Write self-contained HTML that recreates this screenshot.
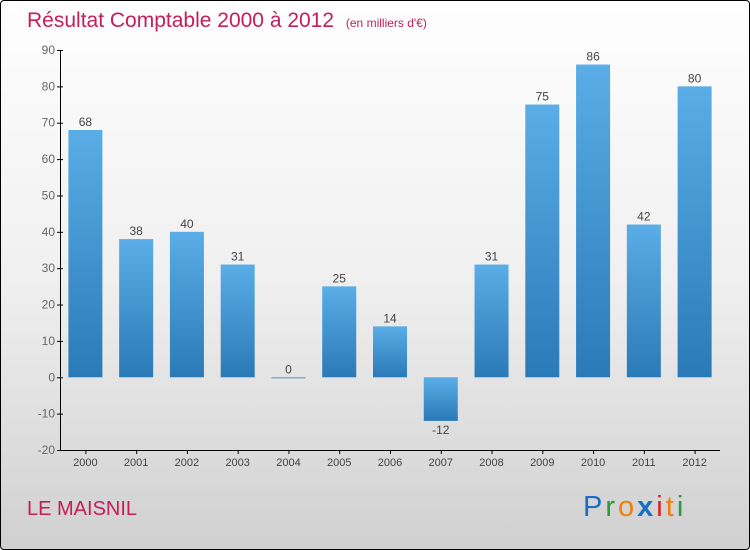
<!DOCTYPE html>
<html><head><meta charset="utf-8"><style>
html,body{margin:0;padding:0;}
body{width:750px;height:550px;overflow:hidden;font-family:"Liberation Sans",sans-serif;}
#wrap{position:absolute;left:0;top:0;width:748px;height:548px;border:1px solid #000;border-radius:4px;background:linear-gradient(#fefefe 0%,#f0f0f0 50%,#d0d0d0 100%);}
</style></head><body>
<div id="wrap">
<svg id="chart" width="750" height="550" style="position:absolute;left:-1px;top:-1px">
<defs><linearGradient id="bg" x1="0" y1="0" x2="0" y2="1"><stop offset="0" stop-color="#5aade6"/><stop offset="1" stop-color="#2a7ab8"/></linearGradient></defs>
<text x="27" y="27" font-size="21" fill="#c41e5a">Résultat Comptable 2000 à 2012 <tspan font-size="12" dx="6">(en milliers d'€)</tspan></text>
<text x="27" y="515" font-size="20" fill="#c41e5a">LE MAISNIL</text>
<text x="583" y="516" font-size="29" letter-spacing="3"><tspan fill="#1a6fc4">P</tspan><tspan fill="#2a9a3a">r</tspan><tspan fill="#f07f10">o</tspan><tspan fill="#1a6fc4" font-weight="bold">x</tspan><tspan fill="#e02020">i</tspan><tspan fill="#f07f10">t</tspan><tspan fill="#2a9a3a">i</tspan></text>
<g id="plot"></g>
</svg></div>
<script>
const categories=["2000","2001","2002","2003","2004","2005","2006","2007","2008","2009","2010","2011","2012"];
const values=[68,38,40,31,0,25,14,-12,31,75,86,42,80];
const yTicks=[90,80,70,60,50,40,30,20,10,0,-10,-20];
const NS="http://www.w3.org/2000/svg";
const x0=60,x1=720,yMin=-20,yMax=90,yTop=50,yBot=450;
const y=v=>yBot-(v-yMin)/(yMax-yMin)*(yBot-yTop);
const step=(x1-x0)/categories.length;
const xc=i=>x0+step*(i+0.5);
const g=document.getElementById('plot');
function mk(t,a){const e=document.createElementNS(NS,t);for(const k in a)e.setAttribute(k,a[k]);g.appendChild(e);return e;}
let ax=mk('line',{x1:x0+0.5,y1:yTop,x2:x0+0.5,y2:yBot,stroke:'#000'});


let bx=mk('line',{x1:x0,y1:yBot+0.5,x2:x1,y2:yBot+0.5,stroke:'#000'});


yTicks.forEach(v=>{
 const t=mk('line',{x1:x0-3,x2:x0+3,y1:y(v)+0.5,y2:y(v)+0.5,stroke:'#000'});
 
 
 const l=mk('text',{x:x0-5,y:y(v)+4,'font-size':12,fill:'#666','text-anchor':'end'});
 l.textContent=v;
 
 
});
categories.forEach((c,i)=>{
 const v=values[i],bw=34;
 const top=Math.min(y(v),y(0)),h=Math.max(Math.abs(y(v)-y(0)),1);
 const r=mk('rect',{x:xc(i)-bw/2,y:top,width:bw,height:h,fill:'url(#bg)'});
 
 
 const t=mk('line',{x1:xc(i)+0.5,x2:xc(i)+0.5,y1:yBot,y2:yBot+4,stroke:'#000'});
 
 
 const l=mk('text',{x:xc(i),y:yBot+16,'font-size':11,fill:'#444','text-anchor':'middle'});
 l.textContent=c;
 
 
 const vl=mk('text',{x:xc(i),y:v>=0?y(v)-4:y(v)+13,'font-size':12,fill:'#444','text-anchor':'middle'});
 vl.textContent=v;
 
 
});
</script>
</body></html>
